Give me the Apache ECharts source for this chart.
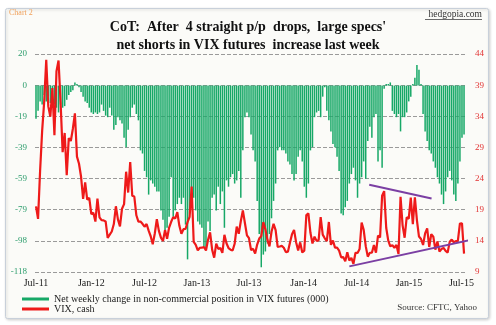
<!DOCTYPE html>
<html><head><meta charset="utf-8">
<script src="https://cdn.jsdelivr.net/npm/echarts/dist/echarts.min.js"></script>
<style>html,body{margin:0;padding:0;background:#fff}#c{width:496px;height:325px}</style>
</head><body><div id="c"></div>
<script>
// ---- data (weekly, first week ending 2011-07-15) ----
const weekStart = '2011-07-15';
const xTickLabels = ['Jul-11','Jan-12','Jul-12','Jan-13','Jul-13','Jan-14','Jul-14','Jan-15','Jul-15'];
const xTickDates  = ['2011-07-15','2012-01-20','2012-07-20','2013-01-15','2013-07-12','2014-01-15','2014-07-15','2015-01-10','2015-07-08'];

// VIX, cash (weekly close)
const vix2011 = [19.53,17.52,25.25,31.66,36.36,43.05,35.59,33.92,38.52,30.98,41.25,42.96,36.27,28.24,31.32,24.53,30.50,30.04,32.00,34.47,27.52,26.38,24.29,20.73,23.40];
const vix2012 = [20.63,20.91,18.28,18.53,17.10,20.79,17.78,17.31,17.29,17.11,14.47,15.00,15.50,16.70,19.55,17.44,16.32,19.16,19.89,25.10,21.76,26.66,21.23,21.11,18.11,17.08,17.10,16.74,16.27,16.70,15.64,14.74,13.45,15.18,17.47,15.60,14.51,13.98,15.73,14.33,16.14,17.06,17.81,17.59,18.61,16.41,15.14,15.87,15.90,17.00,17.84,22.72];
const vix2013 = [13.83,13.36,12.46,12.89,12.90,13.02,12.46,14.17,15.36,12.59,11.30,13.57,12.70,12.85,12.06,14.97,13.61,12.85,12.59,12.45,13.53,16.30,15.14,17.15,18.90,16.86,14.89,14.42,12.54,12.72,11.98,13.41,14.37,14.76,17.01,15.85,14.16,13.12,15.46,16.74,15.72,13.04,13.09,13.19,12.90,12.19,12.26,13.70,15.08,15.76,13.79,12.46];
const vix2014 = [13.76,12.14,12.44,18.14,18.41,15.29,13.57,14.68,14.00,14.11,17.82,15.00,14.41,13.96,17.03,13.36,14.06,12.91,12.92,12.44,11.36,11.40,10.73,12.18,10.85,11.26,10.32,12.08,12.06,12.69,16.95,15.77,13.15,11.47,12.09,12.09,13.31,12.11,14.85,14.55,21.24,21.99,16.11,14.03,13.12,13.31,12.90,13.33,11.89,21.08,16.49,14.50];
const vix2015 = [17.79,17.55,20.95,16.66,20.97,17.29,14.69,14.30,13.34,15.20,16.00,13.02,15.07,14.67,12.58,13.89,12.29,12.70,12.86,12.38,12.13,13.84,14.21,13.78,13.96,14.02,16.79,16.83,11.95];

// Non-commercial net position in VIX futures (000)
const pos2011 = [-21,-16,-10,-12,-6,-10,-7,-11,-4,-12,-14,-17,-12,-14,-13,-9,-6,-4,-3,2,1,-1,-4,-7,-10];
const pos2012 = [-11,-14,-17,-18,-17,-18,-17,-12,-16,-19,-20,-14,-19,-28,-25,-20,-22,-24,-33,-39,-28,-20,-14,-12,-18,-22,-41,-43,-54,-58,-69,-60,-62,-64,-67,-67,-79,-85,-92,-90,-83,-58,-83,-79,-75,-71,-75,-71,-88,-110,-81,-67];
const pos2013 = [-71,-79,-86,-88,-90,-102,-104,-86,-92,-71,-69,-79,-64,-75,-67,-90,-60,-64,-58,-56,-62,-60,-54,-71,-41,-20,-17,-20,-31,-41,-48,-73,-94,-115,-107,-105,-100,-94,-84,-73,-62,-41,-39,-41,-41,-43,-48,-50,-56,-60,-56,-45];
const pos2014 = [-41,-48,-64,-71,-62,-41,-39,-20,-17,-16,-20,-7,-1,-16,-22,-29,-37,-39,-45,-54,-81,-82,-77,-73,-62,-56,-52,-60,-71,-62,-58,-48,-59,-35,-26,-33,-20,-18,-48,-41,-52,-2,1,1,2,-16,-18,-20,-18,-29,-20,-20];
const pos2015 = [-17,-10,-7,1,5,13,10,1,-18,-29,-35,-41,-43,-48,-52,-58,-62,-69,-75,-67,-58,-54,-60,-69,-73,-62,-48,-33,-31];

// Trend lines drawn on the VIX chart
const trendUpper = [['2014-08-27', 23.0], ['2015-03-28', 20.8]];
const trendLower = [['2014-06-20', 9.9], ['2015-08-13', 14.2]];

const leftMin = -118, leftMax = 20, rightMin = 9, rightMax = 44;

// ---- build (x axis measured in weeks since weekStart) ----
const DAY = 86400000, WEEK = 7 * DAY;
const ts = d => Date.parse(d + 'T00:00:00Z');
const t0 = ts(weekStart);
const wk = d => (ts(d) - t0) / WEEK;
const vix = [].concat(vix2011, vix2012, vix2013, vix2014, vix2015);
const pos = [].concat(pos2011, pos2012, pos2013, pos2014, pos2015);
const vixData = vix.map((v, i) => [i, v]);
const posData = pos.map((v, i) => [i, v]);
const tickW = xTickDates.map(wk);
const serif = 'Liberation Serif, Times New Roman, serif';
const posName = 'Net weekly change in non-commercial position in VIX futures (000)';
const vixName = 'VIX, cash';
const titleStyle = {fontFamily: serif, fontSize: 14, fontWeight: 'bold', color: '#111'};

const chart = echarts.init(document.getElementById('c'), null, {renderer: 'canvas'});
chart.setOption({
  animation: false,
  backgroundColor: '#ffffff',
  graphic: [
    {type: 'rect', z: -10, silent: true,
     shape: {x: 5.5, y: 8.5, width: 483, height: 310, r: 2},
     style: {fill: '#fbfbf8', stroke: '#c8d0da', lineWidth: 1, shadowBlur: 3, shadowColor: 'rgba(0,0,0,0.18)', shadowOffsetX: 1, shadowOffsetY: 1}},
    {type: 'line', silent: true, shape: {x1: 425, y1: 19.5, x2: 482, y2: 19.5}, style: {stroke: '#444', lineWidth: 0.8}}
  ],
  title: [
    {text: "CoT:  After  4 straight p/p  drops,  large specs'", left: 'center', top: 20, padding: 0, textStyle: titleStyle},
    {text: "net shorts in VIX futures  increase last week", left: 'center', top: 38, padding: 0, textStyle: titleStyle},
    {text: 'Chart 2', left: 9, top: 9, padding: 0,
     textStyle: {fontFamily: serif, fontSize: 8, fontWeight: 'normal', color: '#f0a05a'}},
    {text: 'hedgopia.com', right: 14, top: 9, padding: 0,
     textStyle: {fontFamily: serif, fontSize: 9.5, fontWeight: 'normal', color: '#333'}},
    {text: 'Source: CFTC, Yahoo', right: 19, top: 303, padding: 0,
     textStyle: {fontFamily: serif, fontSize: 9, fontWeight: 'normal', color: '#333'}}
  ],
  legend: {
    orient: 'vertical', left: 22, top: 294, padding: 0, itemGap: 0,
    itemWidth: 27, itemHeight: 3, icon: 'rect',
    data: [posName, vixName],
    textStyle: {fontFamily: serif, fontSize: 10, color: '#222', lineHeight: 10}
  },
  grid: {left: 35, right: 29, top: 54, bottom: 53},
  xAxis: {
    type: 'value', min: -0.49, max: 210.45,
    axisLine: {show: false}, axisTick: {show: false}, splitLine: {show: false},
    axisLabel: {
      customValues: tickW, margin: 6, fontFamily: serif, fontSize: 10, color: '#222',
      formatter: v => {
        let best = 0, d = Infinity;
        tickW.forEach((t, i) => { if (Math.abs(t - v) < d) { d = Math.abs(t - v); best = i; } });
        return d < 0.5 ? xTickLabels[best] : '';
      }
    }
  },
  yAxis: [
    {type: 'value', min: leftMin, max: leftMax, interval: (leftMax - leftMin) / 7,
     axisLine: {show: false}, axisTick: {show: false},
     splitLine: {show: true, lineStyle: {type: [4, 2], color: '#9a9a9a', width: 1}},
     axisLabel: {formatter: v => String(Math.round(v)), margin: 8, fontFamily: serif, fontSize: 9, color: '#2e9e6e'}},
    {type: 'value', position: 'right', min: rightMin, max: rightMax, interval: 5,
     axisLine: {show: false}, axisTick: {show: false}, splitLine: {show: false},
     axisLabel: {margin: 8, fontFamily: serif, fontSize: 9, color: '#e23434'}}
  ],
  series: [
    {name: posName, type: 'bar', yAxisIndex: 0, data: posData, barWidth: 1.5,
     itemStyle: {color: '#17a867'}, z: 2, silent: true},
    {name: vixName, type: 'line', yAxisIndex: 1, data: vixData, showSymbol: false, symbol: 'none',
     lineStyle: {color: '#ee1a1a', width: 2.2}, itemStyle: {color: '#ee1a1a'}, z: 3, silent: true},
    {name: 'upper', type: 'line', yAxisIndex: 1, data: trendUpper.map(p => [wk(p[0]), p[1]]), symbol: 'none', clip: false,
     lineStyle: {color: '#7b3fa3', width: 2}, z: 4, silent: true},
    {name: 'lower', type: 'line', yAxisIndex: 1, data: trendLower.map(p => [wk(p[0]), p[1]]), symbol: 'none', clip: false,
     lineStyle: {color: '#7b3fa3', width: 2}, z: 4, silent: true}
  ]
});
</script>
</body></html>
